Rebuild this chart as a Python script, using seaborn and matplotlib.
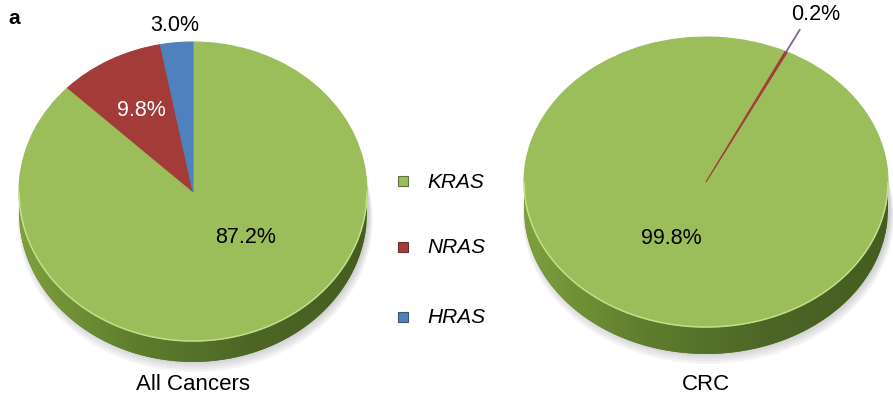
import numpy as np
import matplotlib
matplotlib.use("Agg")
import matplotlib.pyplot as plt
import seaborn as sns
from matplotlib.patches import Polygon, Ellipse, Rectangle
from matplotlib.colors import LinearSegmentedColormap

sns.set_theme(style="white")
plt.rcParams["font.family"] = ["Liberation Sans", "DejaVu Sans"]
plt.rcParams["text.color"] = "black"

# ---- data -------------------------------------------------------------
genes = ["HRAS", "NRAS", "KRAS"]
all_cancers_pct = [3.0, 9.8, 87.2]
crc_genes = ["NRAS", "KRAS"]
crc_pct = [0.2, 99.8]
panel_titles = ["All Cancers", "CRC"]
legend_order = ["KRAS", "NRAS", "HRAS"]

gene_colors = {"KRAS": "#9bbd5a", "NRAS": "#a33b39", "HRAS": "#4f81bd"}
side_cmap = LinearSegmentedColormap.from_list(
    "side", ["#7f9f3e", "#5f7d2d", "#4d6626", "#455d20"])

W, H = 893, 402
fig = plt.figure(figsize=(W / 100, H / 100), dpi=100)
fig.patch.set_facecolor("white")

XL = (-1.15, 1.15)
YL = (-1.45, 1.25)


def pie_axes(cx, cy, hw, hh):
    left = cx + XL[0] * hw
    width = (XL[1] - XL[0]) * hw
    top = cy - YL[1] * hh
    height = (YL[1] - YL[0]) * hh
    return fig.add_axes([left / W, 1 - (top + height) / H, width / W, height / H])


def draw_disc(ax, values, names, start, depth):
    # soft shadow under the disc
    for k in range(5):
        ax.add_patch(Ellipse((0.012, -depth - 0.012 * k), 2.0 + 0.01 * k,
                             2.0 + 0.01 * k, facecolor="#6f6f6f",
                             alpha=0.07, lw=0, zorder=0.2))
    # side of the disc with a lighting gradient
    xs = np.linspace(-1, 1, 400)
    upper = -np.sqrt(np.clip(1 - xs ** 2, 0, None))
    lower = upper - depth
    verts = np.vstack([np.column_stack([xs, upper]),
                       np.column_stack([xs[::-1], lower[::-1]])])
    band = Polygon(verts, closed=True, facecolor="#5a7729", edgecolor="none",
                   zorder=0.5)
    ax.add_patch(band)
    grad = np.linspace(0, 1, 256)[None, :]
    img = ax.imshow(grad, extent=(-1, 1, -1 - depth, 0), cmap=side_cmap,
                    aspect="auto", zorder=0.6, interpolation="bilinear")
    img.set_clip_path(band)
    # top face
    wedges, _ = ax.pie(values, colors=[gene_colors[n] for n in names],
                       startangle=start, counterclock=True, radius=1,
                       wedgeprops=dict(linewidth=0.8, zorder=2))
    # smaller slices sit above larger ones so thin slivers stay visible
    order = np.argsort(values)[::-1]
    for rank, i in enumerate(order):
        w = wedges[i]
        w.set_edgecolor(w.get_facecolor())
        w.set_zorder(2 + 0.01 * rank)
    ax.plot(xs, upper, color="#c4de8c", lw=1.1, zorder=2.5,
            solid_capstyle="round")
    ax.set_aspect("auto")
    ax.set_xlim(*XL)
    ax.set_ylim(*YL)
    ax.axis("off")
    return wedges


def mid_point(w, r):
    a = np.deg2rad((w.theta1 + w.theta2) / 2)
    return r * np.cos(a), r * np.sin(a)


FS = 15.5

# ---- left panel: all cancers -----------------------------------------
ax1 = pie_axes(193, 192.5, 174, 149.5)
w1 = draw_disc(ax1, all_cancers_pct, genes, 90, 0.14)
lab_kw = dict(ha="center", va="center", fontsize=FS)
x, y = mid_point(w1[0], 1.12)
ax1.text(x, y, f"{all_cancers_pct[0]:.1f}%", color="black", **lab_kw)
x, y = mid_point(w1[1], 0.62)
ax1.text(x, y, f"{all_cancers_pct[1]:.1f}%", color="white", **lab_kw)
ax1.text(0.30, -0.30, f"{all_cancers_pct[2]:.1f}%", color="black", **lab_kw)

# ---- right panel: colorectal cancer ----------------------------------
ax2 = pie_axes(706, 183, 182, 145)
w2 = draw_disc(ax2, crc_pct, crc_genes, 63.5, 0.186)
a = np.deg2rad((w2[0].theta1 + w2[0].theta2) / 2)
ax2.plot([np.cos(a), 1.17 * np.cos(a)], [np.sin(a), 1.17 * np.sin(a)],
         color="#8064a2", lw=1.3, zorder=3, clip_on=False)
ax2.text(0.60, 1.16, f"{crc_pct[0]:.1f}%", color="black", **lab_kw)
ax2.text(-0.19, -0.38, f"{crc_pct[1]:.1f}%", color="black", **lab_kw)

# ---- panel captions ---------------------------------------------------
for cx, title in zip([193, 706], panel_titles):
    fig.text(cx / W, 1 - 385 / H, title, ha="center", va="center",
             fontsize=16, color="black")

fig.text(8 / W, 1 - 18 / H, "a", ha="left", va="center", fontsize=15,
         fontweight="bold", color="black")

# ---- legend -----------------------------------------------------------
for name, ypx in zip(legend_order, [182, 248, 318]):
    sq = 10
    fig.add_artist(Rectangle((398 / W, 1 - (ypx + sq / 2) / H), sq / W,
                             sq / H, transform=fig.transFigure,
                             facecolor=gene_colors[name],
                             edgecolor=sns.dark_palette(gene_colors[name], 3)[1],
                             lw=0.8))
    fig.text(427 / W, 1 - ypx / H, name, ha="left", va="center",
             fontsize=15, fontstyle="italic", color="black")

fig.savefig("out.png", dpi=100, facecolor="white")
